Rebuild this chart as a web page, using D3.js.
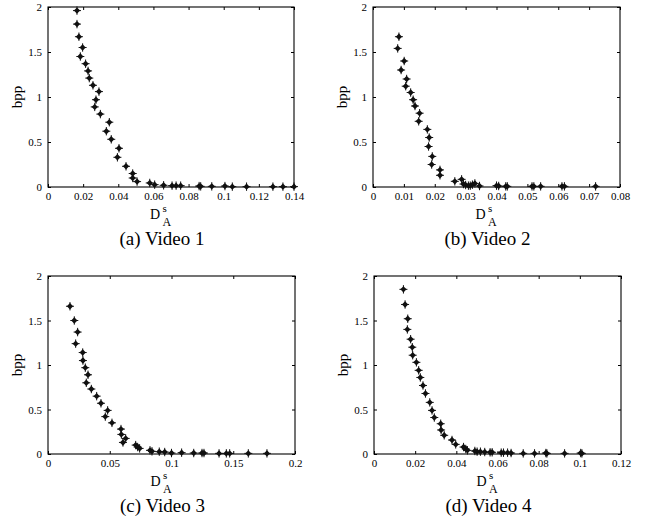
<!DOCTYPE html>
<html>
<head>
<meta charset="utf-8">
<script src="https://cdn.jsdelivr.net/npm/d3@7"></script>
<style>
  body { margin: 0; background: #fff; }
  text { font-family: "Liberation Serif", "Times New Roman", serif; fill: #000; }
</style>
</head>
<body>
<svg id="chart" width="646" height="527"></svg>
<script>
// values
const video1X = [0.0165, 0.0165, 0.0176, 0.0197, 0.0184, 0.0214, 0.0228, 0.0235, 0.0256, 0.029, 0.0273, 0.0266, 0.0298, 0.0349, 0.0332, 0.036, 0.0404, 0.0395, 0.0444, 0.0482, 0.0482, 0.0507, 0.0579, 0.0607, 0.0658, 0.0706, 0.0729, 0.0755, 0.086, 0.0869, 0.0932, 0.1007, 0.1049, 0.113, 0.128, 0.1337, 0.14];
const video1Y = [1.96, 1.81, 1.67, 1.55, 1.45, 1.37, 1.29, 1.21, 1.13, 1.06, 0.97, 0.89, 0.81, 0.72, 0.62, 0.53, 0.43, 0.33, 0.23, 0.15, 0.10, 0.06, 0.045, 0.026, 0.019, 0.015, 0.015, 0.015, 0.01, 0.007, 0.007, 0.01, 0.004, 0.004, 0.004, 0.004, 0.004];

const video2X = [0.0084, 0.008, 0.0101, 0.0091, 0.0109, 0.0106, 0.0122, 0.013, 0.0136, 0.0151, 0.0148, 0.0176, 0.0182, 0.018, 0.0192, 0.019, 0.0217, 0.0217, 0.0265, 0.0287, 0.0293, 0.03, 0.0309, 0.0315, 0.0322, 0.033, 0.0345, 0.04, 0.0407, 0.043, 0.0435, 0.0515, 0.0521, 0.0543, 0.0612, 0.062, 0.0721];
const video2Y = [1.67, 1.54, 1.40, 1.30, 1.20, 1.12, 1.05, 0.97, 0.90, 0.82, 0.73, 0.64, 0.55, 0.45, 0.34, 0.25, 0.19, 0.13, 0.063, 0.085, 0.033, 0.022, 0.015, 0.015, 0.026, 0.04, 0.011, 0.015, 0.011, 0.007, 0.007, 0.007, 0.007, 0.007, 0.007, 0.007, 0.007];

const video3X = [0.0178, 0.0213, 0.024, 0.0224, 0.0281, 0.0283, 0.0302, 0.0324, 0.031, 0.0351, 0.0394, 0.0429, 0.0483, 0.0464, 0.0518, 0.0591, 0.0594, 0.0629, 0.0607, 0.071, 0.0726, 0.0742, 0.0826, 0.0842, 0.0901, 0.0945, 0.1, 0.1082, 0.118, 0.1247, 0.1263, 0.1385, 0.1444, 0.1471, 0.1622, 0.1773];
const video3Y = [1.66, 1.50, 1.37, 1.24, 1.14, 1.05, 0.97, 0.89, 0.80, 0.73, 0.65, 0.57, 0.49, 0.42, 0.35, 0.28, 0.22, 0.175, 0.13, 0.10, 0.078, 0.063, 0.041, 0.03, 0.026, 0.022, 0.011, 0.015, 0.011, 0.011, 0.011, 0.007, 0.007, 0.007, 0.007, 0.007];

const video4X = [0.0143, 0.0151, 0.0164, 0.0162, 0.0178, 0.0186, 0.0188, 0.0206, 0.0217, 0.0225, 0.0238, 0.025, 0.0271, 0.0282, 0.0293, 0.0324, 0.0326, 0.0341, 0.0379, 0.0397, 0.0435, 0.0446, 0.0454, 0.049, 0.0501, 0.0517, 0.0538, 0.0564, 0.0574, 0.0618, 0.0629, 0.0649, 0.0666, 0.0725, 0.078, 0.0835, 0.084, 0.0926, 0.1004, 0.101];
const video4Y = [1.85, 1.68, 1.52, 1.40, 1.29, 1.20, 1.11, 1.03, 0.94, 0.86, 0.77, 0.68, 0.58, 0.49, 0.41, 0.34, 0.27, 0.21, 0.157, 0.108, 0.078, 0.056, 0.041, 0.034, 0.026, 0.026, 0.022, 0.019, 0.019, 0.015, 0.015, 0.015, 0.011, 0.007, 0.007, 0.011, 0.007, 0.007, 0.011, 0.007];

const yTicks = [0, 0.5, 1, 1.5, 2];
const video1XTicks = [0, 0.02, 0.04, 0.06, 0.08, 0.1, 0.12, 0.14];
const video2XTicks = [0, 0.01, 0.02, 0.03, 0.04, 0.05, 0.06, 0.07, 0.08];
const video3XTicks = [0, 0.05, 0.1, 0.15, 0.2];
const video4XTicks = [0, 0.02, 0.04, 0.06, 0.08, 0.1, 0.12];
const captions = ["(a) Video 1", "(b) Video 2", "(c) Video 3", "(d) Video 4"];

const panels = [
  { xs: video1X, ys: video1Y, ticks: video1XTicks, caption: captions[0], left: 48, right: 294, top: 7, bottom: 187 },
  { xs: video2X, ys: video2Y, ticks: video2XTicks, caption: captions[1], left: 373, right: 620, top: 7, bottom: 187 },
  { xs: video3X, ys: video3Y, ticks: video3XTicks, caption: captions[2], left: 48, right: 295, top: 276, bottom: 454 },
  { xs: video4X, ys: video4Y, ticks: video4XTicks, caption: captions[3], left: 374, right: 621, top: 276, bottom: 454 }
];

const svg = d3.select("#chart");
const tickLen = 3;
const serif = "Liberation Serif, Times New Roman, serif";

panels.forEach(p => {
  const x = d3.scaleLinear()
    .domain(d3.extent(p.ticks))
    .range([p.left, p.right]);
  const y = d3.scaleLinear()
    .domain(d3.extent(yTicks))
    .range([p.bottom, p.top]);

  const g = svg.append("g");

  // inward ticks on all four sides, labels only bottom and left
  g.append("g")
    .attr("transform", `translate(0,${p.bottom})`)
    .call(d3.axisBottom(x).tickValues(p.ticks).tickSizeInner(-tickLen).tickSizeOuter(0).tickPadding(5).tickFormat(d => d))
    .attr("font-family", serif).attr("font-size", 11)
    .call(a => a.select(".domain").remove());
  g.append("g")
    .attr("transform", `translate(0,${p.top})`)
    .call(d3.axisTop(x).tickValues(p.ticks).tickSizeInner(-tickLen).tickSizeOuter(0).tickFormat(""))
    .call(a => a.select(".domain").remove());
  g.append("g")
    .attr("transform", `translate(${p.left},0)`)
    .call(d3.axisLeft(y).tickValues(yTicks).tickSizeInner(-tickLen).tickSizeOuter(0).tickPadding(6).tickFormat(d => d))
    .attr("font-family", serif).attr("font-size", 11)
    .call(a => a.select(".domain").remove());
  g.append("g")
    .attr("transform", `translate(${p.right},0)`)
    .call(d3.axisRight(y).tickValues(yTicks).tickSizeInner(-tickLen).tickSizeOuter(0).tickFormat(""))
    .call(a => a.select(".domain").remove());

  g.append("rect")
    .attr("x", p.left).attr("y", p.top)
    .attr("width", p.right - p.left).attr("height", p.bottom - p.top)
    .attr("fill", "none").attr("stroke", "#000").attr("stroke-width", 1.1);

  const pts = p.xs.map((v, i) => [v, p.ys[i]]);
  const marks = g.selectAll(".pt")
    .data(pts)
    .enter()
    .append("g")
    .attr("transform", d => `translate(${x(d[0])},${y(d[1])})`);
  marks.append("path")
    .attr("d", "M-3.1,0L0,-3.2L3.1,0L0,3.2Z")
    .attr("fill", "#111");
  marks.append("path")
    .attr("d", "M-4,0H4M0,-4.2V4.2")
    .attr("stroke", "#111")
    .attr("stroke-width", 1);

  const cx = (p.left + p.right) / 2;
  const cy = (p.top + p.bottom) / 2;

  g.append("text")
    .attr("transform", `translate(${p.left - 26},${cy}) rotate(-90)`)
    .attr("text-anchor", "middle")
    .attr("font-size", "15px")
    .text("bpp");

  g.append("text")
    .attr("x", cx - 21).attr("y", p.bottom + 32)
    .attr("font-size", "14px")
    .text("D");
  g.append("text")
    .attr("x", cx - 8.5).attr("y", p.bottom + 25)
    .attr("font-size", "11px")
    .text("s");
  g.append("text")
    .attr("x", cx - 8.5).attr("y", p.bottom + 39)
    .attr("font-size", "12px")
    .text("A");

  g.append("text")
    .attr("x", cx - 9).attr("y", p.bottom + 58)
    .attr("text-anchor", "middle")
    .attr("font-size", "19px")
    .text(p.caption);
});
</script>
</body>
</html>
